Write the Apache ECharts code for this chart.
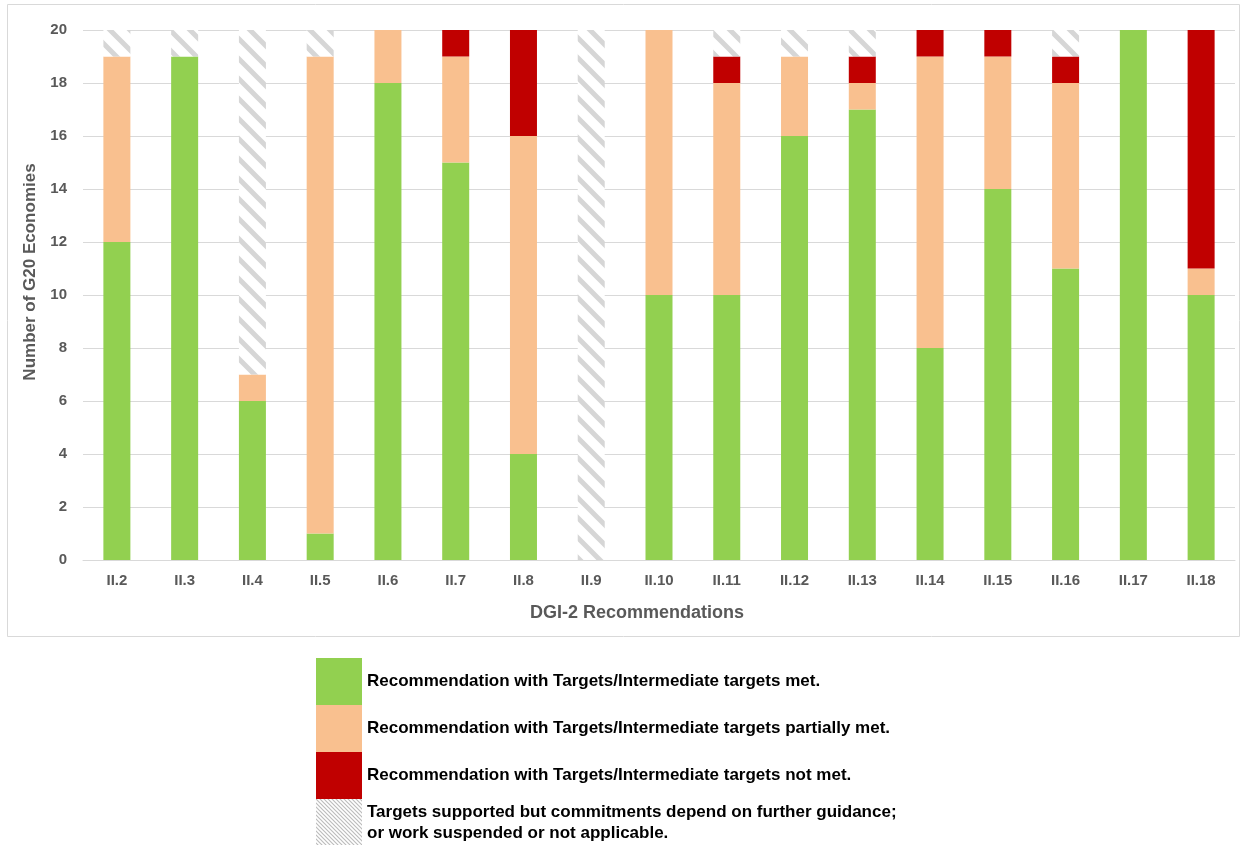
<!DOCTYPE html>
<html><head><meta charset="utf-8">
<script src="https://cdn.jsdelivr.net/npm/echarts@6/dist/echarts.min.js"></script>
<style>html,body{margin:0;padding:0;background:#fff;}#c{width:1243px;height:845px;}</style>
</head><body><div id="c"></div>
<script>
const categories = ['II.2','II.3','II.4','II.5','II.6','II.7','II.8','II.9','II.10','II.11','II.12','II.13','II.14','II.15','II.16','II.17','II.18'];
const metValues      = [12,19,6,1,18,15,4,0,10,10,16,17,8,14,11,20,10];
const partialValues  = [7,0,1,18,2,4,12,0,10,8,3,1,11,5,7,0,1];
const notMetValues   = [0,0,0,0,0,1,4,0,0,1,0,1,1,1,1,0,9];
const otherValues    = [1,1,13,1,0,0,0,20,0,1,1,1,0,0,1,0,0];
const seriesNames = [
  'Recommendation with Targets/Intermediate targets met.',
  'Recommendation with Targets/Intermediate targets partially met.',
  'Recommendation with Targets/Intermediate targets not met.',
  'Targets supported but commitments depend on further guidance;\nor work suspended or not applicable.'
];
const yTicks = [0,2,4,6,8,10,12,14,16,18,20];

function makeHatch(size, lw, color) {
  const cv = document.createElement('canvas');
  cv.width = size; cv.height = size;
  const ctx = cv.getContext('2d');
  ctx.fillStyle = '#ffffff'; ctx.fillRect(0,0,size,size);
  ctx.strokeStyle = color; ctx.lineWidth = lw;
  ctx.beginPath();
  ctx.moveTo(-size/2,-size/2); ctx.lineTo(size*1.5,size*1.5);
  ctx.moveTo(-size/2,size/2); ctx.lineTo(size/2,size*1.5);
  ctx.moveTo(size/2,-size/2); ctx.lineTo(size*1.5,size/2);
  ctx.stroke();
  return cv;
}
const bigHatch = {image: makeHatch(20, 5, '#d6d6d6'), repeat: 'repeat'};
const smallHatch = {image: makeHatch(4, 1.2, '#bdbdbd'), repeat: 'repeat'};

const colors = ['#92d050', '#f9c08f', '#c00000'];
const font = 'Liberation Sans, Arial, sans-serif';
const chart = echarts.init(document.getElementById('c'), null, {renderer: 'canvas'});
const mk = (name, data, color) => ({
  name, type: 'bar', stack: 'total', data, barWidth: 27,
  itemStyle: {color}, emphasis: {disabled: true}
});
chart.setOption({
  animation: false,
  grid: {left: 83, right: 8, top: 30, bottom: 285},
  graphic: [{
    type: 'rect', shape: {x: 7.5, y: 4.5, width: 1232, height: 632},
    style: {fill: 'none', stroke: '#d9d9d9', lineWidth: 1}, z: -1
  }],
  legend: {
    orient: 'vertical', left: 316, top: 658, height: 200, padding: 0,
    itemWidth: 46, itemHeight: 47, itemGap: 0,
    icon: 'rect',
    textStyle: {fontFamily: font, fontWeight: 'bold', fontSize: 17, color: '#000', lineHeight: 21},
    data: [
      {name: seriesNames[0]}, {name: seriesNames[1]}, {name: seriesNames[2]},
      {name: seriesNames[3], itemStyle: {color: smallHatch}}
    ],
    selectedMode: false
  },
  xAxis: {
    type: 'category', data: categories,
    name: 'DGI-2 Recommendations', nameLocation: 'middle', nameGap: 44,
    nameTextStyle: {fontFamily: font, fontWeight: 'bold', fontSize: 18, color: '#595959', padding: [0, 44, 0, 0]},
    axisLine: {lineStyle: {color: '#d9d9d9', width: 1}},
    axisTick: {show: false},
    axisLabel: {fontFamily: font, fontWeight: 'bold', fontSize: 15, color: '#595959', margin: 13}
  },
  yAxis: {
    type: 'value', min: yTicks[0], max: yTicks[yTicks.length-1], interval: 2,
    name: 'Number of G20 Economies', nameLocation: 'middle', nameGap: 44,
    nameTextStyle: {fontFamily: font, fontWeight: 'bold', fontSize: 17, color: '#595959', padding: [0, 0, 0, 46]},
    axisLine: {show: false}, axisTick: {show: false},
    splitLine: {lineStyle: {color: '#d9d9d9', width: 1}},
    axisLabel: {fontFamily: font, fontWeight: 'bold', fontSize: 15, color: '#595959', margin: 16}
  },
  series: [
    mk(seriesNames[0], metValues, colors[0]),
    mk(seriesNames[1], partialValues, colors[1]),
    mk(seriesNames[2], notMetValues, colors[2]),
    mk(seriesNames[3], otherValues, bigHatch)
  ]
});
</script></body></html>
